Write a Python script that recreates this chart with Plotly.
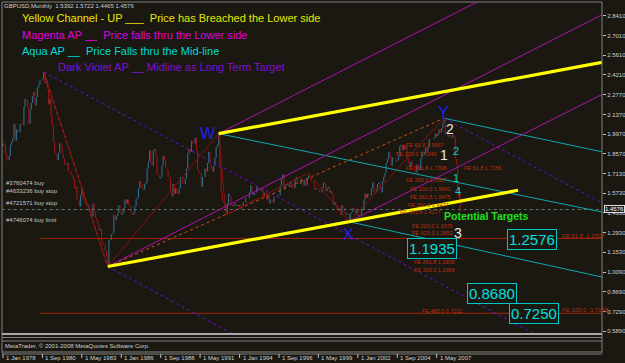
import plotly.graph_objects as go
import pandas as pd

W_PX, H_PX = 625, 363
BG = "#1a1810"

# ---------------- data ----------------
# GBPUSD monthly closes, Jan 1978 .. Dec 2008
closes = [
    1.93, 1.92, 1.86, 1.82, 1.81, 1.84, 1.92, 1.94, 1.97, 2.07, 1.95, 2.03,   # 1978
    2.01, 2.01, 2.07, 2.07, 2.06, 2.19, 2.25, 2.24, 2.19, 2.07, 2.17, 2.22,   # 1979
    2.27, 2.30, 2.20, 2.26, 2.33, 2.35, 2.38, 2.38, 2.39, 2.44, 2.36, 2.38,   # 1980
    2.32, 2.21, 2.25, 2.12, 2.06, 1.94, 1.86, 1.85, 1.81, 1.86, 1.93, 1.91,   # 1981
    1.86, 1.82, 1.78, 1.78, 1.79, 1.73, 1.73, 1.71, 1.70, 1.68, 1.61, 1.62,   # 1982
    1.53, 1.53, 1.48, 1.56, 1.60, 1.53, 1.52, 1.50, 1.50, 1.49, 1.46, 1.45,   # 1983
    1.41, 1.50, 1.44, 1.40, 1.38, 1.35, 1.31, 1.32, 1.23, 1.21, 1.20, 1.16,   # 1984
    1.12, 1.06, 1.24, 1.24, 1.28, 1.29, 1.42, 1.38, 1.41, 1.43, 1.49, 1.45,   # 1985
    1.42, 1.43, 1.47, 1.53, 1.50, 1.53, 1.49, 1.48, 1.44, 1.42, 1.43, 1.48,   # 1986
    1.53, 1.54, 1.61, 1.66, 1.64, 1.61, 1.60, 1.64, 1.65, 1.75, 1.80, 1.88,   # 1987
    1.78, 1.77, 1.88, 1.89, 1.84, 1.71, 1.70, 1.68, 1.69, 1.77, 1.84, 1.81,   # 1988
    1.75, 1.74, 1.69, 1.69, 1.58, 1.55, 1.64, 1.57, 1.61, 1.57, 1.57, 1.61,   # 1989
    1.69, 1.69, 1.64, 1.64, 1.68, 1.75, 1.86, 1.89, 1.87, 1.95, 1.93, 1.93,   # 1990
    1.97, 1.88, 1.74, 1.72, 1.72, 1.62, 1.69, 1.69, 1.75, 1.73, 1.79, 1.87,   # 1991
    1.78, 1.75, 1.73, 1.77, 1.83, 1.90, 1.92, 1.99, 1.77, 1.58, 1.52, 1.51,   # 1992
    1.49, 1.43, 1.50, 1.57, 1.55, 1.49, 1.48, 1.49, 1.50, 1.48, 1.49, 1.48,   # 1993
    1.49, 1.48, 1.48, 1.51, 1.51, 1.54, 1.54, 1.54, 1.58, 1.63, 1.57, 1.56,   # 1994
    1.58, 1.58, 1.62, 1.61, 1.59, 1.59, 1.60, 1.55, 1.58, 1.58, 1.53, 1.55,   # 1995
    1.50, 1.53, 1.53, 1.51, 1.55, 1.55, 1.55, 1.56, 1.56, 1.63, 1.68, 1.71,   # 1996
    1.61, 1.63, 1.64, 1.63, 1.64, 1.66, 1.64, 1.61, 1.61, 1.67, 1.69, 1.65,   # 1997
    1.64, 1.64, 1.68, 1.67, 1.63, 1.67, 1.63, 1.68, 1.70, 1.69, 1.66, 1.66,   # 1998
    1.65, 1.60, 1.61, 1.61, 1.60, 1.58, 1.58, 1.61, 1.65, 1.64, 1.59, 1.61,   # 1999
    1.62, 1.58, 1.59, 1.56, 1.49, 1.51, 1.49, 1.45, 1.47, 1.45, 1.42, 1.49,   # 2000
    1.47, 1.44, 1.42, 1.43, 1.42, 1.38, 1.43, 1.44, 1.47, 1.45, 1.43, 1.45,   # 2001
    1.41, 1.42, 1.42, 1.46, 1.46, 1.53, 1.57, 1.54, 1.57, 1.56, 1.56, 1.61,   # 2002
    1.65, 1.58, 1.58, 1.60, 1.64, 1.65, 1.61, 1.58, 1.66, 1.69, 1.72, 1.79,   # 2003
    1.82, 1.87, 1.84, 1.77, 1.83, 1.82, 1.82, 1.80, 1.81, 1.84, 1.91, 1.92,   # 2004
    1.88, 1.92, 1.89, 1.91, 1.82, 1.79, 1.76, 1.80, 1.77, 1.77, 1.73, 1.72,   # 2005
    1.78, 1.75, 1.74, 1.82, 1.87, 1.85, 1.87, 1.90, 1.87, 1.91, 1.96, 1.96,   # 2006
    1.96, 1.96, 1.97, 2.00, 1.98, 2.00, 2.03, 2.01, 2.04, 2.08, 2.10, 1.99,   # 2007
    1.99, 1.98, 1.99, 1.98, 1.97, 1.99, 1.98, 1.82, 1.78, 1.61, 1.5392, 1.4576,  # 2008
]
first_open = 1.91
last_bar = {"open": 1.5392, "high": 1.5722, "low": 1.4465, "close": 1.4576}
header = "GBPUSD,Monthly  1.5392 1.5722 1.4465 1.4576"

# pivots used by the drawn objects (date, price)
P0 = ("1980-10-01", 2.44)
A = ("1985-02-01", 1.05)
Wp = ("1992-08-01", 2.00)
L93 = ("1993-02-01", 1.42)
H98 = ("1998-09-01", 1.72)
Xp = ("2001-06-01", 1.37)
Yp = ("2007-11-01", 2.11)
END = "2018-07-07"

yellow_lines = [[A, ("2012-11-01", 1.595)], [Wp, (END, 2.51)]]
magenta_lines = [[Wp, ("2010-01-20", 2.941)], [A, (END, 2.85)], [Xp, (END, 2.28)]]
violet_lines = [[P0, ("2013-11-01", 0.575)], [A, ("1993-06-01", 0.575)], [Yp, (END, 1.504)]]
aqua_lines = [[Wp, (END, 1.44)], [Yp, (END, 1.87)], [Xp, (END, 0.975)]]
zigzag = [P0, A, Wp, L93, H98, Xp, Yp]
orange_dotted = [[P0, A], [A, Yp]]
fe_levels = [1.2507, 0.7158]
fe_start = "1980-07-01"
bid = 1.4576

price_ticks = [2.8410, 2.7010, 2.5610, 2.4210, 2.2770, 2.1370, 1.9970, 1.8570,
               1.7130, 1.5730, 1.4330, 1.2930, 1.1530, 1.0090, 0.8690, 0.7290, 0.5890]
date_ticks = ["1978-01-01", "1980-09-01", "1983-05-01", "1986-01-01", "1988-09-01",
              "1991-05-01", "1994-01-01", "1996-09-01", "1999-05-01", "2002-01-01",
              "2004-09-01", "2007-05-01"]
date_labels = ["1 Jan 1978", "1 Sep 1980", "1 May 1983", "1 Jan 1986", "1 Sep 1988",
               "1 May 1991", "1 Jan 1994", "1 Sep 1996", "1 May 1999", "1 Jan 2002",
               "1 Sep 2004", "1 May 2007"]

targets = ["1.1935", "1.2576", "0.8680", "0.7250"]
orders = ["#3760474 buy", "#4633236 buy stop", "#4721571 buy stop", "#4746074 buy limit"]
titles = [
    ("Yellow Channel - UP ___  Price has Breached the Lower side", "#e8e800"),
    ("Magenta AP __  Price falls thru the Lower side", "#e000e0"),
    ("Aqua AP __  Price Falls thru the Mid-line", "#00d8d8"),
    ("Dark Violet AP __ Midline as Long Term Target", "#8010d0"),
]
fe_texts = [
    ("FE 61.8 1.9067", 404, 145), ("FE 100.0 1.8345", 394, 154),
    ("FE 161.8 1.7398", 404, 168), ("FE 61.8 1.7156", 462, 168),
    ("FE 200.0 1.6527", 404, 180), ("FE 100.0 1.5841", 408, 189),
    ("FE 261.8 1.5475", 408, 197), ("FE 300.0 1.4477", 406, 205),
    ("FE 161.8 1.4177", 398, 212), ("FE 200.0 1.3375", 410, 226),
    ("FE 425.0 1.2652", 410, 233), ("FE 261.8 1.1905", 412, 262),
    ("FE 300.0 1.0369", 412, 270), ("FE 485.0 0.7211", 420, 311),
]

# ---------------- helpers ----------------
def px(x):
    return x / W_PX


def py(y):
    return 1 - y / H_PX


dates = pd.date_range("1978-01-01", periods=len(closes), freq="MS")
opens = [first_open] + closes[:-1]

fig = go.Figure()

# candles drawn as thin vertical bars
up_x, up_y, dn_x, dn_y = [], [], [], []
for i, d in enumerate(dates):
    o, c = opens[i], closes[i]
    if i == len(dates) - 1:
        hi, lo = last_bar["high"], last_bar["low"]
    else:
        hi, lo = max(o, c), min(o, c)
    if c >= o:
        up_x += [d, d, None]; up_y += [lo, hi, None]
    else:
        dn_x += [d, d, None]; dn_y += [lo, hi, None]
fig.add_trace(go.Scatter(x=up_x, y=up_y, mode="lines", line=dict(color="#2a6a86", width=1.2)))
fig.add_trace(go.Scatter(x=dn_x, y=dn_y, mode="lines", line=dict(color="#951515", width=1.2)))


def seg(points, color, width, dash="solid"):
    fig.add_trace(go.Scatter(x=[p[0] for p in points], y=[p[1] for p in points], mode="lines",
                             line=dict(color=color, width=width, dash=dash)))


for ln in orange_dotted:
    seg(ln, "#d05010", 1, "dot")
seg(zigzag, "#8a1010", 1)
for lv in fe_levels:
    seg([(fe_start, lv), (END, lv)], "#a02808", 1)
seg([("1977-12-01", bid), (END, bid)], "#5a7070", 1, "dot")
for ln in aqua_lines:
    seg(ln, "#10a8b0", 1)
for ln in violet_lines:
    seg(ln, "#6a10d0", 1, "dot")
for ln in magenta_lines:
    seg(ln, "#b010b0", 1)
for ln in yellow_lines:
    seg(ln, "#ffff00", 3.2)

ann = []
FONT = "Liberation Sans"


def text(t, x, y, color, size, anchor="left", bold=False, **kw):
    if bold:
        t = "<b>" + t + "</b>"
    ann.append(dict(text=t, x=px(x), y=py(y), xref="paper", yref="paper", showarrow=False,
                    xanchor=anchor, yanchor="middle", font=dict(family=FONT, size=size, color=color), **kw))


text(header, 2, 6, "#d0d0d0", 6)
for (t, c), (x, y) in zip(titles, [(20, 18), (20, 35), (20, 51), (56, 67)]):
    text(t, x, y, c, 11)
for t, y in zip(orders, [183, 191, 203, 220]):
    text(t, 4, y, "#c8c8c8", 6)
for t, x, y in fe_texts:
    text(t, x, y, "#b83010", 5.5)
text("FE 61.8  1.2507", 560, 236, "#b83010", 6)
text("FE 100.0  0.7158", 560, 310, "#b83010", 6)

for t, x, y in [("W", 208, 133), ("X", 348, 234), ("Y", 443, 112)]:
    text(t, x, y, "#2020f0", 16, anchor="center")
for t, x, y in [("2", 450, 129), ("1", 444, 155), ("3", 458, 233)]:
    text(t, x, y, "#e8e8e8", 14, anchor="center")
for t, x, y in [("2", 456, 151), ("1", 456, 178), ("4", 458, 191)]:
    text(t, x, y, "#00d0d0", 11, anchor="center")
text("Potential Targets", 442, 216, "#20e020", 10.5, bold=True)

for t, (x, y) in zip(targets, [(432, 248), (532, 239), (492, 293), (534, 313)]):
    text(t, x, y, "#00e0e0", 15, anchor="center", bordercolor="#00c8c8", borderwidth=1,
         borderpad=1, bgcolor=BG)

# price axis current label
text("1.4576", 604, 209, "#ffffff", 6, bgcolor="#202020", bordercolor="#e0e0e0", borderwidth=1,
     borderpad=0)

# date labels
for d, t in zip(date_ticks, date_labels):
    ann.append(dict(text=t, x=d, y=py(358), xref="x", yref="paper", showarrow=False,
                    xanchor="left", yanchor="middle", xshift=1,
                    font=dict(family=FONT, size=6, color="#d0d0d0")))
text("MetaTrader, \u00a9 2001-2008 MetaQuotes Software Corp.", 3, 346, "#d0d0d0", 6)

shapes = []


def hline(y, x0, x1, color, w=1):
    shapes.append(dict(type="line", xref="paper", yref="paper", x0=px(x0), x1=px(x1), y0=py(y), y1=py(y),
                       line=dict(color=color, width=w)))


def vline(x, y0, y1, color, w=1):
    shapes.append(dict(type="line", xref="paper", yref="paper", x0=px(x), x1=px(x), y0=py(y0), y1=py(y1),
                       line=dict(color=color, width=w)))


hline(2, 2, 602, "#808080")
vline(2, 2, 353, "#808080")
vline(602, 2, 353, "#808080")
hline(334, 2, 602, "#a8a8a8", 2)
hline(337.5, 2, 602, "#808080")
hline(341, 2, 602, "#808080")
hline(352, 2, 602, "#808080")
hline(354, 2, 602, "#808080")
# date tick marks
for d in date_ticks:
    shapes.append(dict(type="line", xref="x", yref="paper", x0=d, x1=d, y0=py(354), y1=py(358),
                       line=dict(color="#c0c0c0", width=1)))

fig.update_layout(
    width=W_PX, height=H_PX, margin=dict(l=0, r=0, t=0, b=0),
    paper_bgcolor=BG, plot_bgcolor=BG, showlegend=False,
    annotations=ann, shapes=shapes,
    xaxis=dict(domain=[px(2), px(602)], type="date", range=["1977-12-07", END],
               showgrid=False, zeroline=False, showticklabels=False, showline=False, ticks=""),
    yaxis=dict(domain=[py(333), py(2)], range=[0.5748, 2.941], side="right",
               tickvals=price_ticks, ticktext=["%.4f" % v for v in price_ticks],
               ticks="outside", ticklen=3, tickcolor="#c0c0c0", showgrid=False, zeroline=False,
               showline=False, tickfont=dict(family=FONT, size=6, color="#d0d0d0")),
)

fig.write_html("out.html")
